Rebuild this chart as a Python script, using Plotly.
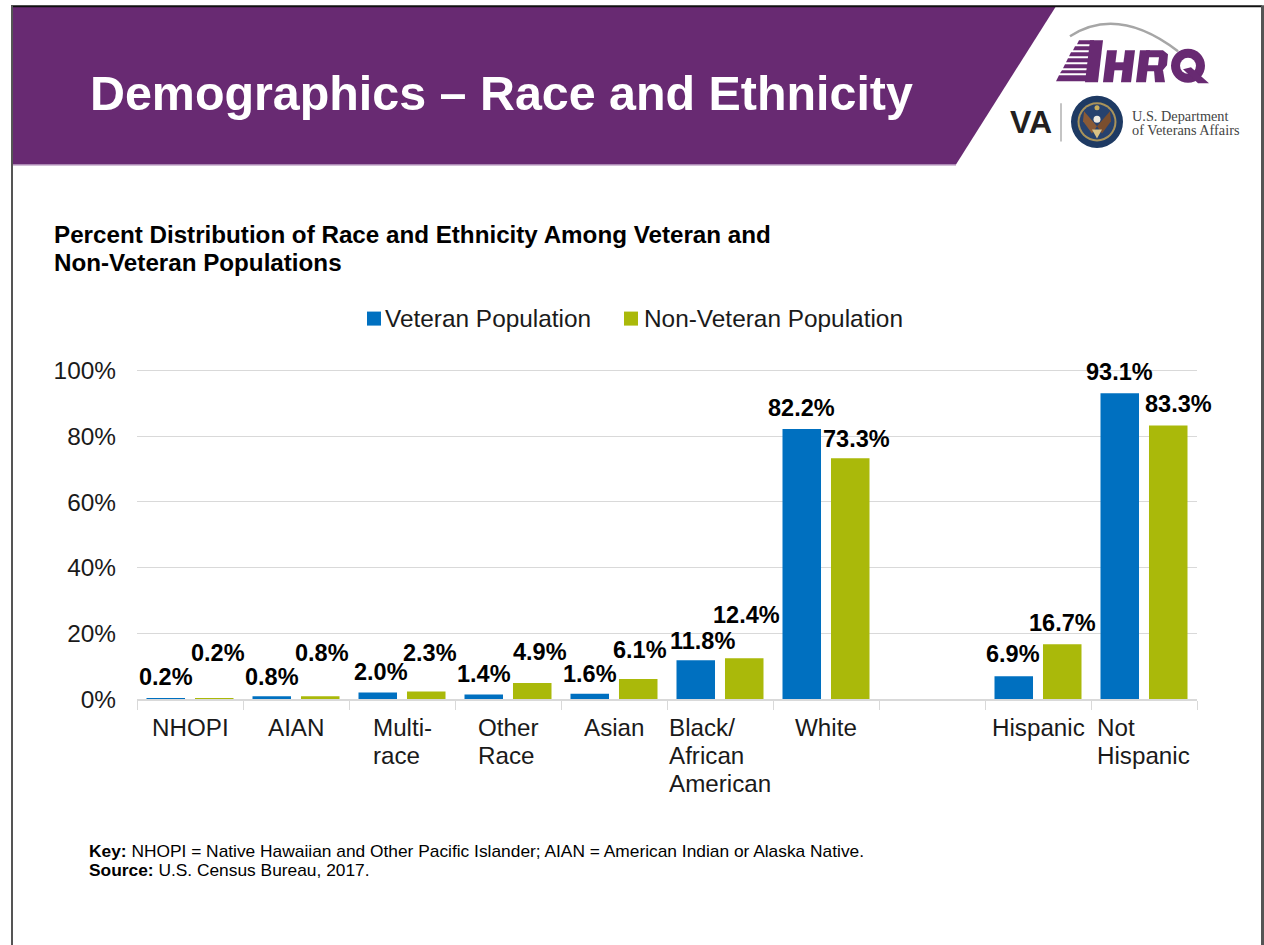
import plotly.graph_objects as go

# ---- data ----
categories = ["NHOPI", "AIAN", "Multi-race", "Other Race", "Asian",
              "Black/African American", "White", " ", "Hispanic", "Not Hispanic"]
tick_lines = [["NHOPI"], ["AIAN"], ["Multi-", "race"], ["Other", "Race"], ["Asian"],
              ["Black/", "African", "American"], ["White"], [], ["Hispanic"], ["Not", "Hispanic"]]
veteran = [0.2, 0.8, 2.0, 1.4, 1.6, 11.8, 82.2, None, 6.9, 93.1]
non_veteran = [0.2, 0.8, 2.3, 4.9, 6.1, 12.4, 73.3, None, 16.7, 83.3]
series_names = ["Veteran Population", "Non-Veteran Population"]
y_ticks = [0, 20, 40, 60, 80, 100]
y_labels = ["0%", "20%", "40%", "60%", "80%", "100%"]

title_text = "Demographics – Race and Ethnicity"
chart_title = ["Percent Distribution of Race and Ethnicity Among Veteran and",
               "Non-Veteran Populations"]
key_text = "<b>Key:</b> NHOPI = Native Hawaiian and Other Pacific Islander; AIAN = American Indian or Alaska Native."
source_text = "<b>Source:</b> U.S. Census Bureau, 2017."

# ---- layout constants (manual label nudges from the slide, in pixels) ----
W, H = 1264, 945
Y_MAX = 100.5
L, R, B = 137, 1197, 699
T = B - 3.28 * Y_MAX
BLUE, GREEN, PURPLE = "#0070C0", "#AAB90A", "#682A72"
GRID = "#D9D9D9"
TXT = "#1A1A1A"
FONT = "Liberation Sans, Arial, sans-serif"
SERIF = "Liberation Serif, Times New Roman, serif"
BAR_OFFSET = 24.25
tick_left_shift = [-40, -30, -31, -32, -32, -53, -33, 0, -48, -49]
vet_dx = [0, 0, 3, 0, 0, 7, 0, 0, -1, 0]
vet_dy = [21, 19, 20, 20, 20, 19, 21, 0, 22, 21]
non_dx = [4, 2, 4, 8, 2, 2, 6, 0, 0, 10]
non_dy = [45, 43, 38, 31, 29, 43, 19, 0, 21, 21]


def px(x):
    return (x - L) / (R - L)


def py(y):
    return (B - y) / (B - T)


fig = go.Figure()
fig.add_bar(x=categories, y=veteran, name=series_names[0], marker_color=BLUE, marker_line_width=0, showlegend=False)
fig.add_bar(x=categories, y=non_veteran, name=series_names[1], marker_color=GREEN, marker_line_width=0, showlegend=False)

ann = []


def text(x, y, s, size, color=TXT, family=FONT, bold=False):
    ann.append(dict(xref="paper", yref="paper", x=px(x - 2), y=py(y), text=f"<b>{s}</b>" if bold else s,
                    showarrow=False, xanchor="left", yanchor="middle", align="left",
                    font=dict(family=family, size=size, color=color)))


# value labels
for vals, sign, dxs, dys in ((veteran, -1, vet_dx, vet_dy), (non_veteran, 1, non_dx, non_dy)):
    for c, v, dx, dy in zip(categories, vals, dxs, dys):
        if v is None:
            continue
        ann.append(dict(x=c, y=v, xref="x", yref="y", text=f"<b>{v:.1f}%</b>", showarrow=False,
                        xanchor="center", yanchor="middle", xshift=sign * BAR_OFFSET + dx, yshift=dy,
                        font=dict(family=FONT, size=23.5, color="#000000")))

# category labels (left aligned lines inside each slot)
for c, lines, sh in zip(categories, tick_lines, tick_left_shift):
    for k, line in enumerate(lines):
        ann.append(dict(x=c, y=0, xref="x", yref="y", text=line, showarrow=False,
                        xanchor="left", yanchor="middle", xshift=sh, yshift=-28 - 28 * k,
                        font=dict(family=FONT, size=24.2, color=TXT)))

# text blocks
text(90, 94, title_text, 48.4, "#FFFFFF", bold=True)
text(54, 235, chart_title[0], 24.2, "#000000", bold=True)
text(54, 263, chart_title[1], 24.2, "#000000", bold=True)
text(385, 319, series_names[0], 24.4)
text(644, 319, series_names[1], 24.4)
text(89, 851, key_text, 17.35, "#000000")
text(89, 870, source_text, 17.35, "#000000")
text(1010, 123, "<b>VA</b>", 32, "#231F20")
text(1132, 116.5, "U.S. Department", 14.3, "#444444", family=SERIF)
text(1132, 131, "of Veterans Affairs", 14.3, "#444444", family=SERIF)


def poly(points, fill):
    d = "M " + " L ".join(f"{px(x):.5f},{py(y):.5f}" for x, y in points) + " Z"
    return dict(type="path", xref="paper", yref="paper", path=d, fillcolor=fill, line_width=0, layer="above")


def rect(x0, y0, x1, y1, fill):
    return dict(type="rect", xref="paper", yref="paper", x0=px(x0), x1=px(x1), y0=py(y0), y1=py(y1),
                fillcolor=fill, line_width=0, layer="above")


def circle(cx, cy, r, fill):
    return dict(type="circle", xref="paper", yref="paper", x0=px(cx - r), x1=px(cx + r),
                y0=py(cy - r), y1=py(cy + r), fillcolor=fill, line_width=0, layer="above")


shapes = [
    poly([(12, 7), (1056, 7), (956, 165), (12, 165)], PURPLE),
    rect(12, 165, 956, 166, "#A67FB0"),
    rect(11, 6, 1262, 8, "#111111"),
    rect(11, 6, 13, 945, "#555555"),
    rect(1261, 6, 1264, 945, "#555555"),
    # legend swatches
    rect(367, 312, 381, 326, BLUE),
    rect(624, 312, 638, 326, GREEN),
    # AHRQ logo: arc
    dict(type="path", xref="paper", yref="paper", layer="above",
         path=f"M {px(1070)},{py(37)} Q {px(1118)},{py(6)} {px(1178)},{py(52)}",
         line=dict(color="#A6A6A6", width=2.5)),
    # A: stripes, foot and stem
    poly([(1079, 41), (1094, 41), (1094, 45), (1077, 45)], PURPLE),
    poly([(1075, 47), (1093, 47), (1093, 51), (1073, 51)], PURPLE),
    poly([(1071, 53), (1092, 53), (1092, 57), (1069, 57)], PURPLE),
    poly([(1068, 59), (1091, 59), (1091, 63), (1066, 63)], PURPLE),
    poly([(1065, 65), (1090, 65), (1090, 69), (1063, 69)], PURPLE),
    poly([(1062, 71), (1090, 71), (1089, 74), (1060, 74)], PURPLE),
    poly([(1059, 76), (1090, 76), (1088, 82), (1056, 82)], PURPLE),
    poly([(1090, 41), (1103, 41), (1098, 83), (1085, 83)], PURPLE),
    # H
    poly([(1107, 51), (1117, 51), (1113, 83), (1103, 83)], PURPLE),
    poly([(1125, 51), (1135, 51), (1131, 83), (1121, 83)], PURPLE),
    rect(1110, 63, 1128, 71, PURPLE),
    # R
    poly([(1140, 51), (1150, 51), (1146, 83), (1136, 83)], PURPLE),
    poly([(1146, 51), (1163, 51), (1168, 55), (1167, 66), (1162, 72), (1145, 72),
          (1146, 66), (1158, 66), (1159, 58), (1147, 58)], PURPLE),
    poly([(1154, 71), (1163, 71), (1165, 83), (1155, 83)], PURPLE),
    # Q
    circle(1188, 66.5, 17, PURPLE),
    circle(1188, 66.5, 8, "#FFFFFF"),
    poly([(1183, 70), (1191, 68), (1209, 84), (1198, 84)], PURPLE),
    # VA divider and seal
    rect(1060, 104, 1062, 142, "#C4C4C4"),
    circle(1097, 122.5, 26, "#1E3A63"),
    circle(1097, 122.5, 19.5, "#A9935A"),
    circle(1097, 122.5, 17.5, "#27426E"),
    poly([(1097, 127), (1084, 112), (1083, 122), (1092, 134)], "#8A5A36"),
    poly([(1097, 127), (1110, 112), (1111, 122), (1102, 134)], "#7A4E2E"),
    circle(1097, 120, 3.5, "#EFEAE0"),
    poly([(1092, 130), (1102, 130), (1097, 139)], "#D9C184"),
    circle(1097, 108.5, 2.5, "#C9AE5B"),
]

fig.update_layout(
    width=W, height=H, margin=dict(l=L, r=W - R, t=T, b=H - B),
    paper_bgcolor="#FFFFFF", plot_bgcolor="#FFFFFF",
    barmode="group", bargap=0.085, bargroupgap=0.206,
    font=dict(family=FONT, size=24.4, color=TXT),
    annotations=ann, shapes=shapes, showlegend=False,
    xaxis=dict(type="category", categoryorder="array", categoryarray=categories, range=[-0.5, 9.5],
               showticklabels=False, ticks="outside", ticklen=9, tickcolor=GRID, tickson="boundaries",
               showline=True, linecolor=GRID, linewidth=1.5, showgrid=False, zeroline=False),
    yaxis=dict(range=[0, Y_MAX], tickmode="array", tickvals=y_ticks, ticktext=y_labels,
               showgrid=True, gridcolor=GRID, gridwidth=1, zeroline=False, showline=False,
               ticks="", ticklabelstandoff=20, tickfont=dict(size=24.4, color=TXT)),
)

fig.write_html("out.html", config=dict(displayModeBar=False),
               post_script="document.body.style.margin='0';document.documentElement.style.overflow='hidden';")
